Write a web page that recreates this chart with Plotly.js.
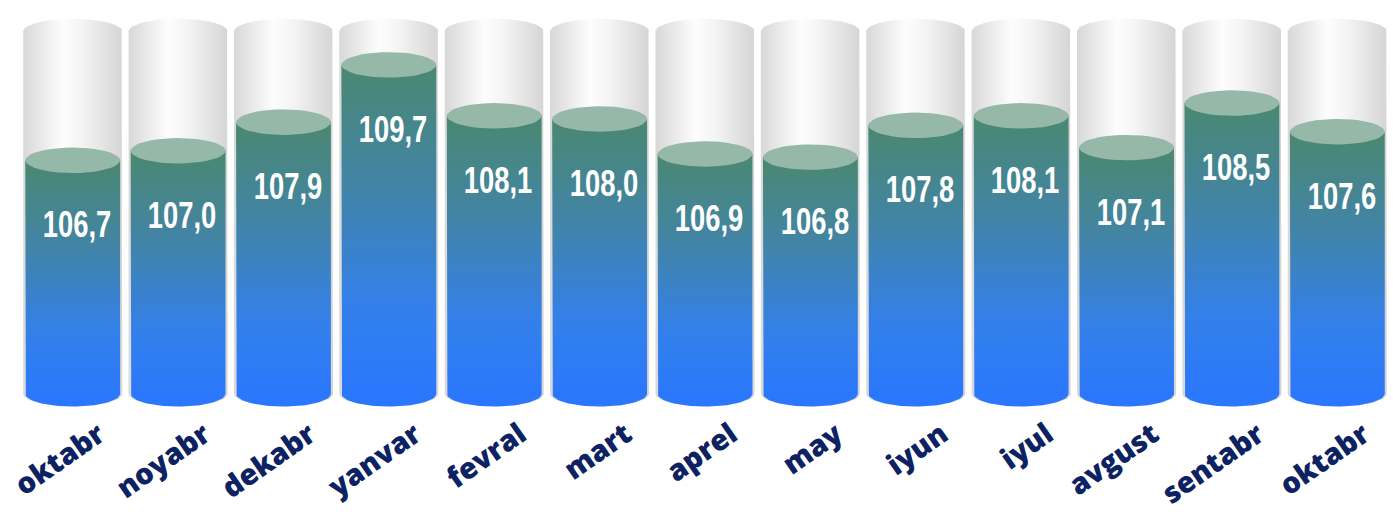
<!DOCTYPE html>
<html>
<head>
<meta charset="utf-8">
<script src="https://cdn.plot.ly/plotly-3.0.1.min.js"></script>
<style>html,body{margin:0;padding:0;background:#fff;}#chart{width:1393px;height:515px;}</style>
</head>
<body>
<div id="chart"></div>
<script>
// ---- data ----
const months = ['oktabr','noyabr','dekabr','yanvar','fevral','mart','aprel','may','iyun','iyul','avgust','sentabr','oktabr'];
const values = [106.7, 107.0, 107.9, 109.7, 108.1, 108.0, 106.9, 106.8, 107.8, 108.1, 107.1, 108.5, 107.6];

// ---- styling constants ----
const BASE = 99.36;      // bottom of cylinders (axis units)
const TANK_TOP = 110.75; // top of grey tanks
const RY = 0.4;          // ellipse vertical radius (axis units)
const W_TANK = 0.47, W_LIQ = 0.45;
const N = 40;

function arc(c, w, yc, a0, a1) {
  const xs = [], ys = [];
  for (let k = 0; k <= N; k++) {
    const t = a0 + (a1 - a0) * k / N;
    xs.push(c + w * Math.cos(t));
    ys.push(yc + RY * Math.sin(t));
  }
  return [xs, ys];
}

const traces = [];
const idx = months.map((_, i) => i);

// grey tanks
idx.forEach(i => {
  const b = arc(i, W_TANK, BASE, Math.PI, 2 * Math.PI);
  const t = arc(i, W_TANK, TANK_TOP, 0, Math.PI);
  traces.push({
    type: 'scatter', mode: 'lines', hoverinfo: 'skip',
    x: [...b[0], ...t[0]], y: [...b[1], ...t[1]],
    fill: 'toself', line: {width: 0, color: 'rgba(0,0,0,0)'},
    fillcolor: '#e8e8e8',
    fillgradient: {type: 'horizontal', colorscale: [[0, '#d8d8d8'], [0.4, '#fdfdfd'], [0.6, '#f4f4f4'], [1, '#d5d5d5']]}
  });
});

// liquid bodies
idx.forEach(i => {
  const v = values[i];
  const b = arc(i, W_LIQ, BASE, Math.PI, 2 * Math.PI);
  traces.push({
    type: 'scatter', mode: 'lines', hoverinfo: 'skip',
    x: [i - W_LIQ, ...b[0], i + W_LIQ, i - W_LIQ],
    y: [v, ...b[1], v, v],
    fill: 'toself', line: {width: 0, color: 'rgba(0,0,0,0)'},
    fillcolor: '#3a80d0',
    fillgradient: {type: 'vertical', colorscale: [[0, '#2a76ff'], [0.3, '#3380ea'], [0.65, '#4284a6'], [1, '#4a8870']]}
  });
});

// liquid top faces
const ex = [], ey = [];
idx.forEach(i => {
  const e = arc(i, W_LIQ, values[i], 0, 2 * Math.PI);
  ex.push(...e[0], null); ey.push(...e[1], null);
});
traces.push({
  type: 'scatter', mode: 'lines', hoverinfo: 'skip', x: ex, y: ey,
  fill: 'toself', fillcolor: '#95b8a8', line: {width: 0, color: 'rgba(0,0,0,0)'}
});

const annotations = idx.map(i => ({
  x: i + 0.04, y: values[i] - 2.0, xref: 'x', yref: 'y',
  text: values[i].toFixed(1).replace('.', ','), showarrow: false,
  font: {family: 'Liberation Sans, Arial, sans-serif', size: 36, color: '#ffffff', weight: 700}
}));

const layout = {
  width: 1393, height: 515,
  margin: {l: 20, r: 3, t: 0, b: 104},
  paper_bgcolor: '#ffffff', plot_bgcolor: '#ffffff',
  showlegend: false,
  xaxis: {
    range: [-0.5, 12.5], showgrid: false, zeroline: false, showline: false, ticks: '',
    tickvals: idx, ticktext: months, tickangle: -35,
    ticklabelshift: 26, ticklabelstandoff: 0,
    tickfont: {family: 'Open Sans, sans-serif', size: 29, color: '#0c2262', weight: 800},
    fixedrange: true
  },
  yaxis: {range: [98.82, 111.74], visible: false, fixedrange: true},
  annotations: annotations
};

Plotly.newPlot('chart', traces, layout, {displayModeBar: false, staticPlot: true}).then(gd => {
  // condense the value labels horizontally (narrow display face look)
  gd.querySelectorAll('text.annotation-text').forEach(t => {
    const bb = t.getBBox();
    const cx = bb.x + bb.width / 2, cy = bb.y + bb.height / 2;
    t.setAttribute('transform', `translate(${cx},${cy}) scale(0.76,1.05) translate(${-cx},${-cy})`);
  });
});
</script>
</body>
</html>
